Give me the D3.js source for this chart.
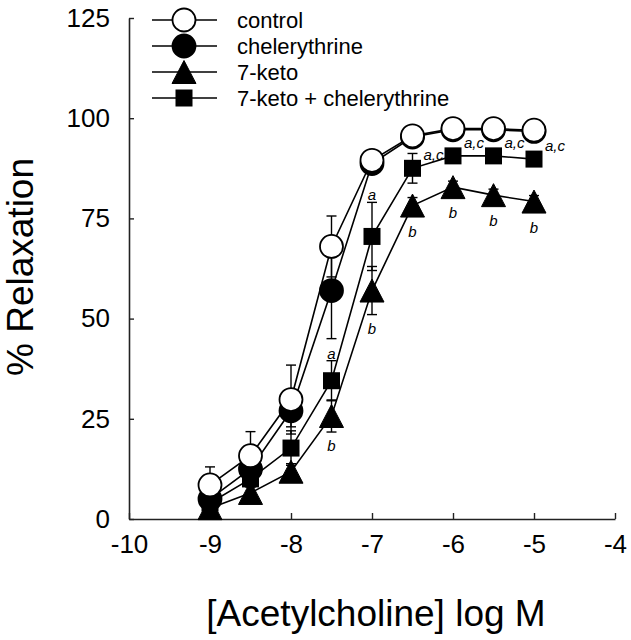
<!DOCTYPE html>
<html>
<head>
<meta charset="utf-8">
<script src="https://cdn.jsdelivr.net/npm/d3@7"></script>
<style>
  html, body { margin: 0; padding: 0; background: #fff; }
  svg { display: block; }
  text { font-family: "Liberation Sans", Arial, Helvetica, sans-serif; fill: #000; }
</style>
</head>
<body>
<svg id="chart" width="631" height="640"></svg>
<script>
// ---- data ----
const logConc = [-9, -8.5, -8, -7.5, -7, -6.5, -6, -5.5, -5];
const control       = [8.5, 15.8, 29.8, 68.0, 89.5, 95.6, 97.4, 97.4, 97.0];
const controlSem    = [4.5, 6.0, 8.6, 7.6, 1.5, 1.5, 1.0, 1.0, 1.0];
const chelerythrine = [5.0, 12.5, 27.0, 57.0, 88.7, 95.3, 97.1, 97.1, 96.7];
const chelSem       = [2.0, 3.0, 4.0, 12.0, 2.0, 1.0, 1.0, 1.0, 1.0];
const keto          = [2.7, 6.5, 11.8, 25.7, 57.0, 78.2, 82.8, 80.8, 79.2];
const ketoSem       = [1.0, 1.5, 2.0, 4.0, 6.0, 2.0, 1.5, 1.5, 1.5];
const ketoChel      = [4.0, 10.0, 17.7, 34.5, 70.5, 87.5, 90.6, 90.6, 89.8];
const ketoChelSem   = [1.5, 2.0, 4.3, 5.0, 8.5, 3.7, 1.5, 1.5, 1.5];

const seriesNames = ["control", "chelerythrine", "7-keto", "7-keto + chelerythrine"];
const xTicks = [-10, -9, -8, -7, -6, -5, -4];
const xTickLabels = ["-10", "-9", "-8", "-7", "-6", "-5", "-4"];
const yTicks = [0, 25, 50, 75, 100, 125];
const yTickLabels = ["0", "25", "50", "75", "100", "125"];
const xTitle = "[Acetylcholine] log M";
const yTitle = "% Relaxation";

const acLabelAt = [-6.5, -6, -5.5, -5];       // "a,c" on 7-keto + chelerythrine
const aLabelAt  = [-7.5, -7];                 // "a" on 7-keto + chelerythrine
const bLabelAt  = [-7.5, -7, -6.5, -6, -5.5, -5]; // "b" on 7-keto

// ---- layout ----
const svg = d3.select("#chart");
const x = d3.scaleLinear().domain([-10, -4]).range([129, 615]);
const y = d3.scaleLinear().domain([0, 125]).range([519, 18]);

svg.append("rect").attr("width", 631).attr("height", 640).attr("fill", "#fff");

// axes
const xAxis = d3.axisBottom(x).tickValues(xTicks)
  .tickFormat((d, i) => xTickLabels[i])
  .tickSizeInner(-6).tickSizeOuter(0).tickPadding(16);
const yAxis = d3.axisLeft(y).tickValues(yTicks)
  .tickFormat((d, i) => yTickLabels[i])
  .tickSizeInner(-5).tickSizeOuter(0).tickPadding(19);

const gx = svg.append("g").attr("transform", `translate(0,${y(0)})`).call(xAxis);
const gy = svg.append("g").attr("transform", `translate(${x(-10)},0)`).call(yAxis);
[gx, gy].forEach(g => {
  g.select(".domain").attr("stroke", "#222").attr("stroke-width", 1.6);
  g.selectAll(".tick line").attr("stroke", "#222").attr("stroke-width", 1.4);
  g.selectAll(".tick text").attr("font-size", 26).attr("fill", "#000")
    .style("font-family", '"Liberation Sans", Arial, sans-serif');
});
gx.selectAll(".tick text").attr("dy", "0.71em");

svg.append("text").attr("x", 376).attr("y", 626).attr("text-anchor", "middle")
  .attr("font-size", 37).text(xTitle);
svg.append("text").attr("transform", "translate(33,267) rotate(-90)")
  .attr("text-anchor", "middle").attr("font-size", 37).text(yTitle);

// markers
const R = 11.5;
const SQ = 17;
function drawMarker(g, type, cx, cy) {
  if (type === "circleOpen" || type === "circleFilled") {
    g.append("circle").attr("cx", cx).attr("cy", cy).attr("r", R)
      .attr("fill", type === "circleOpen" ? "#fff" : "#000")
      .attr("stroke", "#000").attr("stroke-width", 1.8);
  } else if (type === "triangle") {
    const w = 12, h = 11.5;
    g.append("path").attr("d", `M${cx},${cy - h}L${cx + w},${cy + h}L${cx - w},${cy + h}Z`)
      .attr("fill", "#000").attr("stroke", "#000").attr("stroke-width", 1);
  } else {
    g.append("rect").attr("x", cx - SQ / 2).attr("y", cy - SQ / 2)
      .attr("width", SQ).attr("height", SQ).attr("fill", "#000");
  }
}

const series = [
  { name: seriesNames[2], values: keto, sem: ketoSem, type: "triangle" },
  { name: seriesNames[3], values: ketoChel, sem: ketoChelSem, type: "square" },
  { name: seriesNames[1], values: chelerythrine, sem: chelSem, type: "circleFilled" },
  { name: seriesNames[0], values: control, sem: controlSem, type: "circleOpen" }
];

const line = d3.line().x(d => x(d[0])).y(d => y(d[1]));
const plot = svg.append("g");

series.forEach(s => {
  const pts = logConc.map((c, i) => [c, s.values[i], s.sem[i]]);
  plot.append("path").attr("d", line(pts)).attr("fill", "none")
    .attr("stroke", "#000").attr("stroke-width", 1.6);
  pts.forEach(p => {
    const cx = x(p[0]);
    const y1 = y(p[1] + p[2]), y2 = y(p[1] - p[2]);
    plot.append("line").attr("x1", cx).attr("x2", cx).attr("y1", y1).attr("y2", y2)
      .attr("stroke", "#000").attr("stroke-width", 1.4);
    [y1, y2].forEach(yy => plot.append("line").attr("x1", cx - 5).attr("x2", cx + 5)
      .attr("y1", yy).attr("y2", yy).attr("stroke", "#000").attr("stroke-width", 1.4));
  });
  pts.forEach(p => drawMarker(plot, s.type, x(p[0]), y(p[1])));
});

// significance labels
const labelG = svg.append("g").attr("font-size", 15).attr("font-style", "italic");
acLabelAt.forEach(c => {
  const i = logConc.indexOf(c);
  labelG.append("text").attr("x", x(c) + 11).attr("y", y(ketoChel[i]) - 8).text("a,c");
});
aLabelAt.forEach(c => {
  const i = logConc.indexOf(c);
  labelG.append("text").attr("x", x(c)).attr("y", y(ketoChel[i] + ketoChelSem[i]) - 2)
    .attr("text-anchor", "middle").text("a");
});
bLabelAt.forEach(c => {
  const i = logConc.indexOf(c);
  const low = Math.max(y(keto[i]) + 12, y(keto[i] - ketoSem[i]));
  labelG.append("text").attr("x", x(c)).attr("y", low + 19)
    .attr("text-anchor", "middle").text("b");
});

// legend
const legend = svg.append("g");
const legendOrder = [
  { name: seriesNames[0], type: "circleOpen" },
  { name: seriesNames[1], type: "circleFilled" },
  { name: seriesNames[2], type: "triangle" },
  { name: seriesNames[3], type: "square" }
];
legendOrder.forEach((d, i) => {
  const cy = 20 + i * 26;
  legend.append("line").attr("x1", 152).attr("x2", 217).attr("y1", cy).attr("y2", cy)
    .attr("stroke", "#000").attr("stroke-width", 1.6);
  drawMarker(legend, d.type, 184, cy);
  legend.append("text").attr("x", 237).attr("y", cy + 8).attr("font-size", 22).text(d.name);
});
</script>
</body>
</html>
